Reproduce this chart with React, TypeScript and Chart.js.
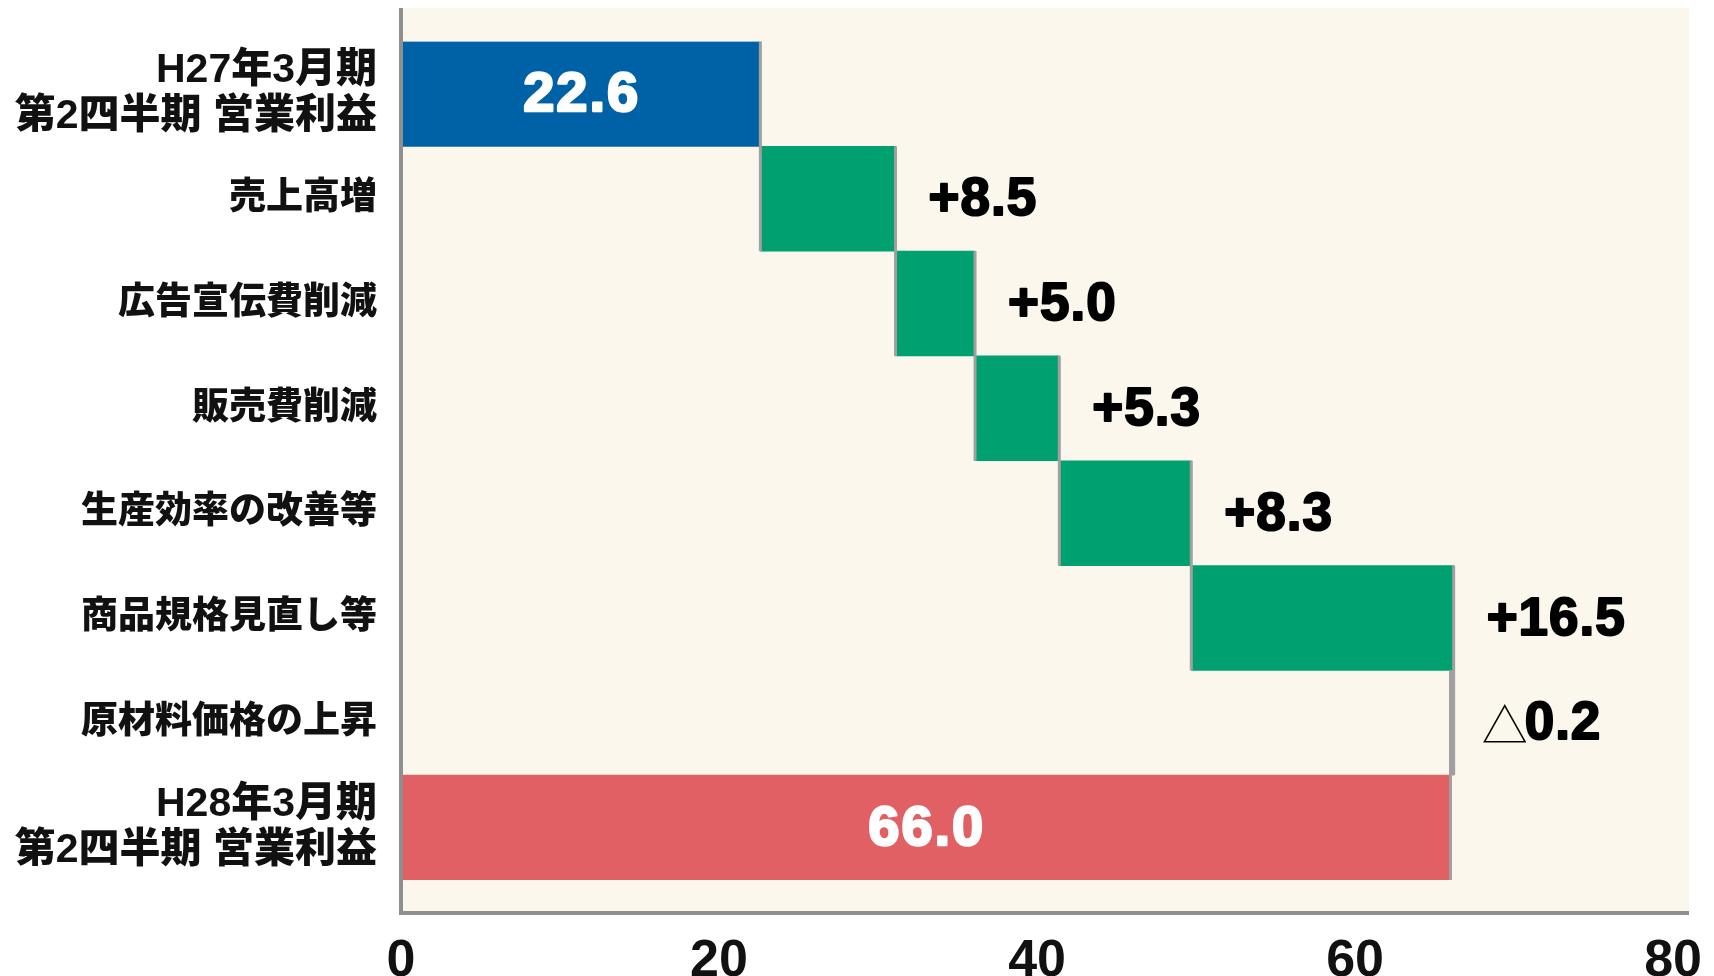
import React, { useEffect, useRef } from "react";
import { Chart, registerables } from "chart.js";

Chart.register(...registerables);

// ---- data ----
const categories: (string | string[])[] = [
  ["H27年3月期", "第2四半期 営業利益"],
  "売上高増",
  "広告宣伝費削減",
  "販売費削減",
  "生産効率の改善等",
  "商品規格見直し等",
  "原材料価格の上昇",
  ["H28年3月期", "第2四半期 営業利益"],
];
const startValue = 22.6;
const deltas = [8.5, 5.0, 5.3, 8.3, 16.5, -0.2];
const endValue = 66.0;
const valueLabels = ["22.6", "+8.5", "+5.0", "+5.3", "+8.3", "+16.5", "△0.2", "66.0"];
const xTicks = [0, 20, 40, 60, 80];
const xMax = 81;

const barColors = ["#0062A6", "#00A070", "#00A070", "#00A070", "#00A070", "#00A070", "#A0A0A0", "#E06064"];

// ---- derived waterfall ranges ----
const ranges: [number, number][] = [[0, startValue]];
const ends: number[] = [startValue];
let cum = startValue;
for (const d of deltas) {
  const next = Math.round((cum + d) * 10) / 10;
  ranges.push([Math.min(cum, next), Math.max(cum, next)]);
  ends.push(next);
  cum = next;
}
ranges.push([0, endValue]);
ends.push(endValue);

const BG = "#FBF7EC";
const AXIS = "#8F8F8F";
const CONNECT = "#A0A0A0";
const NUM_FONT = "'Liberation Sans', Arial, sans-serif";
const CJK_FONT = "'Noto Sans CJK JP', 'Noto Sans', sans-serif";
const LABEL_FONT = "'Liberation Sans', 'Noto Sans CJK JP', sans-serif";

function heavyText(ctx: CanvasRenderingContext2D, text: string, x: number, y: number, color: string, stroke: number) {
  ctx.fillStyle = color;
  ctx.strokeStyle = color;
  ctx.lineWidth = stroke;
  ctx.lineJoin = "round";
  ctx.strokeText(text, x, y);
  ctx.fillText(text, x, y);
}

const framePlugin = {
  id: "frame",
  beforeDraw(chart: any) {
    const { ctx, chartArea } = chart;
    const left = chartArea.left;
    const right = chartArea.right;
    const top = chartArea.top - 33.5;
    const bottom = chartArea.bottom + 33;
    ctx.save();
    ctx.fillStyle = BG;
    ctx.fillRect(left, top, right - left, bottom - top);
    ctx.restore();
  },
  afterDatasetsDraw(chart: any) {
    const { ctx, chartArea, scales } = chart;
    const xs = scales.x;
    const meta = chart.getDatasetMeta(0);
    ctx.save();
    // connector lines
    ctx.strokeStyle = CONNECT;
    ctx.lineWidth = 3;
    for (let i = 0; i < meta.data.length - 1; i++) {
      const a = meta.data[i].getProps(["y", "height"], true);
      const b = meta.data[i + 1].getProps(["y", "height"], true);
      const x = xs.getPixelForValue(ends[i]);
      ctx.beginPath();
      ctx.moveTo(x, a.y - a.height / 2);
      ctx.lineTo(x, b.y + b.height / 2);
      ctx.stroke();
    }
    // axes
    const left = chartArea.left;
    const right = chartArea.right;
    const top = chartArea.top - 33.5;
    const bottom = chartArea.bottom + 33;
    ctx.strokeStyle = AXIS;
    ctx.lineWidth = 4;
    ctx.beginPath();
    ctx.moveTo(left, top);
    ctx.lineTo(left, bottom);
    ctx.moveTo(left - 2, bottom);
    ctx.lineTo(right, bottom);
    ctx.stroke();

    // value labels
    ctx.textBaseline = "middle";
    for (let i = 0; i < meta.data.length; i++) {
      const el = meta.data[i].getProps(["y"], true);
      const [lo, hi] = ranges[i];
      const label = valueLabels[i];
      if (i === 0 || i === meta.data.length - 1) {
        const cx = (xs.getPixelForValue(lo) + xs.getPixelForValue(hi)) / 2;
        ctx.textAlign = "center";
        ctx.font = `bold 56px ${NUM_FONT}`;
        (ctx as any).letterSpacing = "2px";
        heavyText(ctx, label, cx + 1, el.y + 2, "#FFFFFF", 2.5);
      } else {
        let x = xs.getPixelForValue(hi) + 33;
        ctx.textAlign = "left";
        if (label.startsWith("△")) {
          (ctx as any).letterSpacing = "0px";
          ctx.font = `300 46px ${CJK_FONT}`;
          ctx.fillStyle = "#000";
          ctx.fillText("△", x - 5, el.y + 2);
          x += ctx.measureText("△").width - 8;
          ctx.font = `bold 53px ${NUM_FONT}`;
          (ctx as any).letterSpacing = "1px";
          heavyText(ctx, label.slice(1), x, el.y + 2, "#000", 2);
        } else {
          ctx.font = `bold 53px ${NUM_FONT}`;
          (ctx as any).letterSpacing = "1px";
          heavyText(ctx, label, x, el.y + 2, "#000", 2);
        }
      }
    }
    ctx.restore();
  },
};

export default function App() {
  const ref = useRef<HTMLCanvasElement | null>(null);
  useEffect(() => {
    if (!ref.current) return;
    const chart = new Chart(ref.current, {
      type: "bar",
      data: {
        labels: categories as any,
        datasets: [
          {
            data: ranges as any,
            backgroundColor: barColors,
            borderWidth: 0,
            barPercentage: 1,
            categoryPercentage: 1,
          },
        ],
      },
      options: {
        indexAxis: "y",
        animation: false,
        responsive: false,
        maintainAspectRatio: false,
        layout: { padding: { top: 41.5, right: 25, left: 0, bottom: 0 } },
        plugins: { legend: { display: false }, tooltip: { enabled: false } },
        scales: {
          x: {
            type: "linear",
            min: 0,
            max: xMax,
            grid: { display: false, drawTicks: false },
            border: { display: false },
            ticks: {
              color: "#111",
              font: { family: NUM_FONT, size: 52, weight: "bold" },
              padding: 50,
              maxRotation: 0,
            },
            afterBuildTicks: (scale: any) => {
              scale.ticks = xTicks.map((v) => ({ value: v }));
            },
            afterFit: (scale: any) => {
              scale.height = 96;
              scale.paddingLeft = 0;
              scale.paddingRight = 0;
            },
          },
          y: {
            type: "category",
            offset: true,
            grid: { display: false, drawTicks: false },
            border: { display: false },
            ticks: {
              color: "#111",
              font: (ctx: any) => {
                const n = categories.length;
                const twoLine = ctx.index === 0 || ctx.index === n - 1;
                return twoLine
                  ? { family: LABEL_FONT, size: 41, weight: "900", lineHeight: 1.13 }
                  : { family: LABEL_FONT, size: 37, weight: "900", lineHeight: 1.2 };
              },
              padding: 24,
            },
            afterFit: (scale: any) => {
              scale.width = 401;
              scale.paddingTop = 0;
              scale.paddingBottom = 0;
            },
          },
        },
      },
      plugins: [framePlugin],
    });
    return () => chart.destroy();
  }, []);
  return (
    <div style={{ position: "fixed", left: 0, top: 0, width: 1714, height: 976, background: "#fff" }}>
      <canvas ref={ref} width={1714} height={976} style={{ display: "block" }} />
    </div>
  );
}
